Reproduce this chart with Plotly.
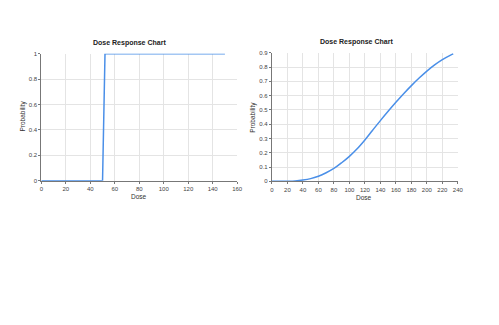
import plotly.graph_objects as go

# Left chart: step response
dose_step = [0, 50, 52, 150]
prob_step = [0, 0, 1, 1]

# Right chart: sigmoid response
dose_curve = [0, 10, 20, 30, 40, 50, 60, 70, 80, 90, 100, 110, 120, 130, 140, 150,
              160, 170, 180, 190, 200, 210, 220, 230, 234]
prob_curve = [0.0, 0.0001, 0.001, 0.003, 0.009, 0.019, 0.036, 0.06, 0.09, 0.13,
              0.175, 0.228, 0.29, 0.358, 0.425, 0.49, 0.553, 0.613, 0.67, 0.723,
              0.772, 0.815, 0.852, 0.882, 0.892]

left_xticks = [0, 20, 40, 60, 80, 100, 120, 140, 160]
left_yticks = [0, 0.2, 0.4, 0.6, 0.8, 1]
right_xticks = [0, 20, 40, 60, 80, 100, 120, 140, 160, 180, 200, 220, 240]
right_yticks = [0, 0.1, 0.2, 0.3, 0.4, 0.5, 0.6, 0.7, 0.8, 0.9]

LINE = "#4a8fe8"
GRID = "#e4e4e4"
AXIS = "#777777"
FONT = "Liberation Sans, Arial, sans-serif"
W, H = 499, 325

fig = go.Figure()
fig.add_trace(go.Scatter(x=dose_step, y=prob_step, mode="lines",
                         line=dict(color=LINE, width=1.5), xaxis="x", yaxis="y",
                         showlegend=False))
fig.add_trace(go.Scatter(x=dose_curve, y=prob_curve, mode="lines", line_shape="spline",
                         line=dict(color=LINE, width=1.5), xaxis="x2", yaxis="y2",
                         showlegend=False))

def ax(domain, rng, ticks, anchor):
    return dict(domain=domain, range=rng, tickvals=ticks, anchor=anchor,
                showgrid=True, gridcolor=GRID, gridwidth=1, zeroline=False,
                showline=True, linecolor=AXIS, linewidth=1,
                ticks="outside", ticklen=2, tickcolor=AXIS,
                tickfont=dict(size=6, color="#444"))

def px(x):
    return x / W

def py(y):
    return (H - y) / H

def text(t, x, y, size=7, angle=0, bold=False, color="#333"):
    return dict(text=f"<b>{t}</b>" if bold else t, x=px(x), y=py(y),
                xref="paper", yref="paper", showarrow=False, textangle=angle,
                font=dict(size=size, color=color), xanchor="center", yanchor="middle")

fig.update_layout(
    width=W, height=H,
    margin=dict(l=0, r=0, t=0, b=0),
    paper_bgcolor="white", plot_bgcolor="white",
    font=dict(family=FONT, color="#333"),
    xaxis=ax([px(40), px(239)], [0, 160], left_xticks, "y"),
    yaxis=ax([py(181), py(51.7)], [0, 1], left_yticks, "x"),
    xaxis2=ax([px(274.3), px(463.3)], [0, 240], right_xticks, "y2"),
    yaxis2=ax([py(181.7), py(50.7)], [0, 0.9], right_yticks, "x2"),
    annotations=[
        text("Dose Response Chart", 130, 40.5, bold=True, color="#222"),
        text("Dose Response Chart", 360, 40, bold=True, color="#222"),
        text("Dose", 139, 197, size=6.5),
        text("Dose", 368, 198, size=6.5),
        text("Probability", 21, 115, size=6.5, angle=-90),
        text("Probability", 255, 116, size=6.5, angle=-90),
    ],
)

fig.write_html("out.html")
